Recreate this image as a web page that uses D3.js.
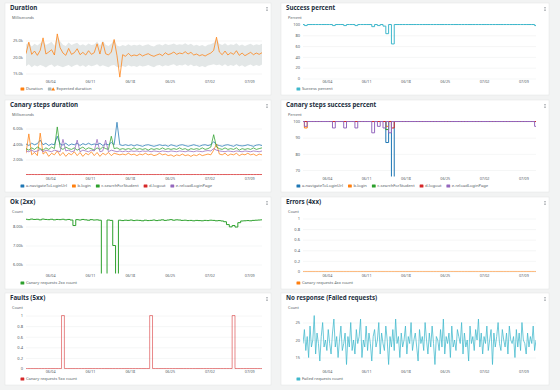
<!DOCTYPE html>
<html lang="en">
<head>
  <meta charset="UTF-8">
  <script src="https://d3js.org/d3.v7.min.js"></script>
  <style>
    body {
      margin: 0;
      padding: 0;
      overflow: hidden;
      background: #f2f3f3;
      font-family: "Noto Sans", Arial, sans-serif;
    }
  </style>
</head>
<body>
<script>
  // samples every 12 hours from 05/30 18:00 (failed requests every 6 hours)
  const startTime = new Date(2023, 4, 30, 18);
  const stepHours = 12;
  const failedStepHours = 6;
  const weekLabels = ['06/04', '06/11', '06/18', '06/25', '07/02', '07/09'];

  const durationValues = [
    21000, 24500, 20800, 21800, 20500, 22000, 25800, 20900, 21500, 22200, 20600, 27000,
    22800, 21200, 20500, 22600, 20800, 21300, 22500, 20700, 21400, 20600, 21900, 20800,
    21300, 24000, 20900, 24500, 21000, 20600, 21500, 25300, 20400, 13900, 20700, 20200,
    21100, 20300, 20600, 20400, 20900, 20300, 20700, 21000, 20500, 20200, 20600, 20900,
    20400, 21300, 20700, 21000, 21500, 20800, 21200, 21000, 21600, 20900, 21400, 20600,
    20900, 20400, 20700, 20300, 20800, 21200, 22000, 26000, 21500, 20700, 21800, 20600,
    21300, 20800, 21900, 20500, 21200, 20400, 20900, 21400, 20700, 21200, 20800, 21300];
  const expectedUpper = [
    23800, 24500, 23200, 24000, 23500, 24200, 25000, 23600, 24100, 24600, 23400, 26500,
    24800, 23700, 23300, 24400, 23600, 24000, 24300, 23500, 23900, 23400, 24100, 23600,
    23800, 24700, 23500, 24900, 23700, 23300, 24000, 25400, 23500, 23200, 23600, 23300,
    23900, 23400, 23700, 23500, 23800, 23300, 23600, 23900, 23400, 23200, 23700, 23900,
    23500, 24000, 23600, 23800, 24100, 23600, 23900, 23700, 24200, 23600, 24000, 23400,
    23700, 23300, 23600, 23200, 23700, 23900, 24300, 25600, 24000, 23600, 24200, 23500,
    23900, 23600, 24200, 23400, 23800, 23300, 23700, 24000, 23500, 23900, 23600, 24000];
  const expectedLower = [
    17200, 17800, 16900, 17500, 17100, 17600, 17300, 16800, 17400, 17700, 17000, 17500,
    17200, 16900, 17300, 17600, 17000, 17400, 17700, 17100, 17500, 17000, 17600, 17200,
    17400, 17800, 17100, 17500, 17200, 16900, 17400, 17600, 17000, 16800, 17300, 17000,
    17500, 17100, 17300, 17000, 17400, 17100, 17300, 17600, 17200, 16900, 17400, 17600,
    17100, 17500, 17300, 17600, 17800, 17300, 17600, 17400, 17800, 17300, 17700, 17200,
    17400, 17000, 17300, 16900, 17400, 17600, 17800, 17500, 17700, 17300, 17800, 17200,
    17600, 17300, 17800, 17100, 17500, 17000, 17400, 17700, 17200, 17600, 17300, 17700];

  const successPercent = [
    100, 98, 100, 100, 100, 100, 100, 100, 100, 100, 100, 98,
    100, 100, 100, 98, 100, 100, 100, 98, 100, 100, 100, 100,
    100, 96, 100, 98, 100, 97, 83, 100, 64, 100, 100, 100,
    100, 100, 100, 100, 100, 100, 100, 100, 100, 100, 100, 100,
    100, 100, 100, 100, 100, 100, 100, 100, 100, 100, 100, 100,
    100, 100, 100, 100, 100, 100, 100, 100, 100, 100, 100, 100,
    100, 100, 100, 100, 100, 100, 100, 100, 100, 100, 100, 98];

  const stepNames = ['a-navigateToLoginUrl', 'b-login', 'c-searchForStudent', 'd-logout', 'e-reloadLoginPage'];
  const stepColors = ['#1f77b4', '#ff7f0e', '#2ca02c', '#d62728', '#9467bd'];

  const navigateDuration = [
    4000, 3800, 4100, 3900, 4050, 4500, 3900, 4100, 3800, 4000, 3900, 5000,
    4000, 3850, 4100, 3800, 4000, 3900, 4100, 3800, 4050, 3900, 4100, 3900,
    4000, 3900, 4100, 3800, 4000, 3900, 4200, 3900, 6800, 3900, 3800, 3900,
    3800, 3900, 3750, 3900, 3800, 3700, 3850, 3900, 3800, 3700, 3800, 3900,
    3800, 3850, 3700, 3900, 3800, 3700, 3850, 3900, 3800, 3700, 3800, 3900,
    3800, 3700, 3850, 3900, 3800, 3900, 4300, 3900, 3800, 3700, 3850, 3900,
    3800, 3700, 3900, 3800, 3750, 3800, 3900, 3800, 3700, 3850, 3900, 3800];
  const loginDuration = [
    2800, 5300, 2600, 2900, 2500, 5400, 2700, 3000, 2400, 2800, 2600, 3100,
    2500, 2900, 2400, 2800, 2600, 3000, 2500, 2900, 2400, 2800, 2600, 3000,
    2500, 2900, 2400, 2800, 2600, 2900, 2500, 2800, 2700, 2600, 2700, 2600,
    2800, 2600, 2700, 2500, 2700, 2600, 2800, 2600, 2700, 2500, 2600, 2800,
    2600, 2700, 2500, 2600, 2400, 2600, 2500, 2700, 2500, 2600, 2400, 2600,
    2500, 2700, 2500, 2600, 2700, 2600, 3200, 4000, 2700, 2600, 2800, 2500,
    2700, 2600, 2800, 2500, 2700, 2600, 2800, 2600, 2700, 2500, 2700, 2600];
  const searchDuration = [
    3400, 3200, 3500, 3300, 3600, 3400, 3200, 3500, 3300, 3600, 3400, 6200,
    3500, 3300, 3600, 3400, 3300, 3500, 3200, 3400, 3600, 3300, 3500, 3400,
    3200, 3500, 3300, 3600, 3400, 3300, 5000, 3400, 3500, 3300, 3400, 3300,
    3400, 3300, 3500, 3300, 3400, 3300, 3400, 3200, 3400, 3300, 3400, 3300,
    3500, 3300, 3400, 3300, 3400, 3300, 3500, 3300, 3400, 3200, 3400, 3300,
    3400, 3300, 3500, 3300, 3400, 3600, 5200, 3600, 3400, 3300, 3500, 3300,
    3400, 3300, 3500, 3200, 3400, 3300, 3400, 3300, 3500, 3300, 3400, 3500];
  const logoutDuration = [
    62, 58, 65, 60, 57, 63, 61, 59, 64, 60, 58, 62,
    60, 63, 57, 61, 64, 59, 62, 58, 60, 65, 61, 59,
    63, 60, 58, 62, 61, 59, 64, 60, 66, 58, 61, 60,
    59, 62, 60, 58, 63, 61, 59, 60, 62, 58, 61, 60,
    63, 59, 60, 62, 58, 61, 60, 59, 63, 60, 58, 62,
    61, 59, 60, 63, 58, 61, 62, 60, 59, 61, 60, 58,
    62, 60, 59, 61, 63, 58, 60, 62, 59, 61, 60, 62];
  const reloadDuration = [
    3100, 3000, 3200, 3000, 3100, 3300, 3000, 3200, 3100, 3000, 3200, 3100,
    3000, 4600, 3100, 3200, 3000, 3100, 4500, 3000, 3200, 3100, 3000, 3200,
    3100, 4600, 3000, 3100, 4500, 3000, 3200, 3100, 3000, 3100, 3000, 3100,
    3000, 3100, 3050, 3100, 3000, 3100, 3050, 3100, 3000, 3100, 3050, 3000,
    3100, 3050, 3000, 3100, 3050, 3000, 3100, 3050, 3000, 3100, 3050, 3000,
    3100, 3050, 3000, 3100, 3150, 3100, 3400, 3200, 3100, 3050, 3000, 3100,
    3050, 3000, 3100, 3050, 3000, 3100, 3050, 3000, 3100, 3050, 3000, 3100];

  const navigateSuccess = [
    100, 100, 100, 100, 100, 100, 100, 100, 100, 100, 100, 100,
    100, 100, 100, 100, 100, 100, 100, 100, 100, 100, 100, 100,
    100, 100, 100, 100, 100, 100, 87, 100, 60, 100, 100, 100,
    100, 100, 100, 100, 100, 100, 100, 100, 100, 100, 100, 100,
    100, 100, 100, 100, 100, 100, 100, 100, 100, 100, 100, 100,
    100, 100, 100, 100, 100, 100, 100, 100, 100, 100, 100, 100,
    100, 100, 100, 100, 100, 100, 100, 100, 100, 100, 100, 100];
  const loginSuccess = [
    100, 96, 100, 100, 100, 100, 100, 100, 100, 100, 100, 100,
    100, 100, 100, 100, 100, 100, 100, 100, 100, 100, 100, 100,
    100, 100, 100, 100, 100, 100, 97, 100, 100, 100, 100, 100,
    100, 100, 100, 100, 100, 100, 100, 100, 100, 100, 100, 100,
    100, 100, 100, 100, 100, 100, 100, 100, 100, 100, 100, 100,
    100, 100, 100, 100, 100, 100, 100, 100, 100, 100, 100, 100,
    100, 100, 100, 100, 100, 100, 100, 100, 100, 100, 100, 100];
  const searchSuccess = [
    100, 100, 100, 100, 100, 100, 100, 100, 100, 100, 100, 100,
    100, 100, 100, 100, 100, 100, 100, 100, 100, 100, 100, 100,
    100, 100, 100, 100, 100, 100, 95, 100, 100, 100, 100, 100,
    100, 100, 100, 100, 100, 100, 100, 100, 100, 100, 100, 100,
    100, 100, 100, 100, 100, 100, 100, 100, 100, 100, 100, 100,
    100, 100, 100, 100, 100, 100, 100, 100, 100, 100, 100, 100,
    100, 100, 100, 100, 100, 100, 100, 100, 100, 100, 100, 100];
  const logoutSuccess = [
    100, 100, 100, 100, 100, 100, 100, 100, 100, 100, 100, 100,
    100, 100, 100, 100, 100, 100, 100, 100, 100, 100, 100, 100,
    100, 100, 100, 100, 100, 100, 100, 100, 96, 100, 100, 100,
    100, 100, 100, 100, 100, 100, 100, 100, 100, 100, 100, 100,
    100, 100, 100, 100, 100, 100, 100, 100, 100, 100, 100, 100,
    100, 100, 100, 100, 100, 100, 100, 100, 100, 100, 100, 100,
    100, 100, 100, 100, 100, 100, 100, 100, 100, 100, 100, 100];
  const reloadSuccess = [
    100, 97, 100, 100, 100, 100, 100, 100, 100, 100, 100, 96,
    100, 100, 100, 96, 100, 100, 100, 96, 100, 100, 100, 100,
    100, 93, 100, 97, 100, 96, 100, 93, 100, 100, 100, 100,
    100, 100, 100, 100, 100, 100, 100, 100, 100, 100, 100, 100,
    100, 100, 100, 100, 100, 100, 100, 100, 100, 100, 100, 100,
    100, 100, 100, 100, 100, 100, 100, 100, 100, 100, 100, 100,
    100, 100, 100, 100, 100, 100, 100, 100, 100, 100, 100, 97];

  const okCount = [
    8380, 8360, 8390, 8370, 8380, 8350, 8390, 8370, 8360, 8380, 8350, 8370,
    8360, 8380, 8350, 8370, 8340, 8050, 8360, 8340, 8370, 8350, 8330, 8360,
    8340, 8350, 8330, 5200, 5200, 8340, 8320, 7000, 5200, 8330, 8310, 8330,
    8320, 8340, 8310, 8330, 8320, 8300, 8330, 8310, 8320, 8340, 8310, 8330,
    8350, 8320, 8340, 8360, 8330, 8350, 8340, 8320, 8330, 8310, 8320, 8300,
    8320, 8310, 8300, 8320, 8310, 8330, 8320, 8300, 8310, 8290, 8250, 8100,
    7980, 8050, 7970, 8200, 8290, 8300, 8310, 8300, 8320, 8330, 8340, 8350];
  const errorCount = [
    0, 0, 0, 0, 0, 0, 0, 0, 0, 0, 0, 0,
    0, 0, 0, 0, 0, 0, 0, 0, 0, 0, 0, 0,
    0, 0, 0, 0, 0, 0, 0, 0, 0, 0, 0, 0,
    0, 0, 0, 0, 0, 0, 0, 0, 0, 0, 0, 0,
    0, 0, 0, 0, 0, 0, 0, 0, 0, 0, 0, 0,
    0, 0, 0, 0, 0, 0, 0, 0, 0, 0, 0, 0,
    0, 0, 0, 0, 0, 0, 0, 0, 0, 0, 0, 0];
  const faultCount = [
    0, 0, 0, 0, 0, 0, 0, 0, 0, 0, 0, 0,
    0, 1, 0, 0, 0, 0, 0, 0, 0, 0, 0, 0,
    0, 0, 0, 0, 0, 0, 0, 0, 0, 0, 0, 0,
    0, 0, 0, 0, 0, 0, 0, 0, 1, 0, 0, 0,
    0, 0, 0, 0, 0, 0, 0, 0, 0, 0, 0, 0,
    0, 0, 0, 0, 0, 0, 0, 0, 0, 0, 0, 0,
    0, 1, 0, 0, 0, 0, 0, 0, 0, 0, 0, 0];
  const failedCount = [
    19, 23, 17, 21, 15, 24, 18, 20, 27, 16, 22, 19, 14, 21, 25, 18,
    20, 17, 23, 19, 16, 22, 26, 18, 21, 15, 20, 24, 17, 19, 22, 13,
    21, 18, 25, 17, 20, 16, 23, 19, 21, 26, 15, 20, 18, 24, 17, 22,
    19, 14, 21, 23, 18, 20, 25, 16, 22, 19, 17, 24, 20, 13, 21, 18,
    23, 17, 26, 19, 21, 15, 22, 18, 20, 24, 16, 21, 19, 25, 17, 20,
    22, 18, 14, 23, 19, 21, 17, 25, 20, 16, 22, 18, 24, 19, 13, 21,
    20, 17, 23, 18, 26, 16, 21, 19, 22, 15, 24, 18, 20, 17, 23, 21,
    19, 25, 16, 22, 18, 20, 14, 24, 19, 21, 17, 23, 20, 26, 18, 22,
    16, 21, 19, 24, 17, 20, 23, 13, 22, 18, 21, 25, 19, 17, 23, 20,
    18, 22, 16, 24, 20, 19, 21, 15, 23, 18, 22, 17, 25, 20, 19, 16,
    22, 18, 21, 19, 24, 17, 20];

  const teal = '#3fb8cc';
  const timeAt = (i, h) => d3.timeHour.offset(startTime, i * h);
  const xDomain = [startTime, timeAt(durationValues.length - 1, stepHours)];
  const parseLabel = d3.timeParse('%Y/%m/%d');
  const weekDates = weekLabels.map(l => parseLabel('2023/' + l));

  const svg = d3.select('body').append('svg')
    .attr('width', 560)
    .attr('height', 390);

  const kFormat = digits => d => (d / 1000).toFixed(digits) + 'k';

  function drawPanel(p) {
    const g = svg.append('g').attr('transform', `translate(${p.x},${p.y})`);
    g.append('rect')
      .attr('width', p.w).attr('height', 92)
      .attr('fill', '#fff')
      .attr('stroke', '#e1e4e4').attr('stroke-width', 0.5);

    g.append('text')
      .attr('x', 5).attr('y', 6.6)
      .attr('font-size', 6.2).attr('font-weight', 700)
      .attr('fill', '#232f3e')
      .text(p.title);

    [4.4, 6, 7.6].forEach(cy => {
      g.append('circle').attr('cx', p.w - 4).attr('cy', cy).attr('r', 0.5).attr('fill', '#545b64');
    });

    g.append('text')
      .attr('x', 7).attr('y', 15.6)
      .attr('font-size', 3.8)
      .attr('fill', '#545b64')
      .text(p.unit);

    const x = d3.scaleTime().domain(xDomain).range([p.left, p.right]);
    // half-pixel offset keeps flat lines crisp
    const y = d3.scaleLinear().domain(p.yDomain).range([75.5, 21.5]);

    // y grid + labels
    const yAxis = g.append('g')
      .attr('transform', `translate(${p.left},0)`)
      .call(d3.axisLeft(y)
        .tickValues(p.yTicks)
        .tickFormat(p.yFormat)
        .tickSize(-(p.right - p.left))
        .tickPadding(3));
    yAxis.select('.domain').remove();
    yAxis.selectAll('line').attr('stroke', '#eaeded').attr('stroke-width', 0.5);
    yAxis.selectAll('text')
      .attr('font-size', 4).attr('fill', '#545b64')
      .attr('font-family', '"Noto Sans", Arial, sans-serif');

    const xAxis = g.append('g')
      .attr('transform', 'translate(0,75)')
      .call(d3.axisBottom(x)
        .tickValues(weekDates)
        .tickFormat(d3.timeFormat('%m/%d'))
        .tickSize(0)
        .tickPadding(2.4));
    xAxis.select('.domain').remove();
    xAxis.selectAll('text')
      .attr('font-size', 3.7).attr('fill', '#545b64')
      .attr('font-family', '"Noto Sans", Arial, sans-serif');

    const clipId = 'clip-' + p.id;
    g.append('clipPath').attr('id', clipId)
      .append('rect')
      .attr('x', p.left).attr('y', 20)
      .attr('width', p.right - p.left).attr('height', 56.5);

    const plot = g.append('g').attr('clip-path', `url(#${clipId})`);

    if (p.band) {
      const area = d3.area()
        .x((d, i) => x(timeAt(i, stepHours)))
        .y0((d, i) => y(p.band.lower[i]))
        .y1((d, i) => y(p.band.upper[i]));
      plot.append('path')
        .datum(p.band.upper)
        .attr('d', area)
        .attr('fill', '#e3e7e7');
    }

    p.series.forEach(s => {
      const line = d3.line()
        .curve(p.stepped ? d3.curveStep : d3.curveLinear)
        .x((d, i) => x(timeAt(i, s.step || stepHours)))
        .y(d => y(d));
      plot.append('path')
        .datum(s.values)
        .attr('d', line)
        .attr('fill', 'none')
        .attr('stroke', s.color)
        .attr('stroke-width', p.stepped ? 1 : 0.75)
        .attr('stroke-opacity', s.opacity || 1)
        .attr('stroke-linejoin', 'round');
    });

    // legend
    let lx = 15.5;
    p.legend.forEach(item => {
      const lg = g.append('g').attr('transform', `translate(${lx},86)`);
      let off;
      if (item.band) {
        lg.append('rect').attr('x', 0).attr('y', -1.6).attr('width', 3.6).attr('height', 3.2)
          .attr('rx', 0.5).attr('fill', '#aab7b8');
        lg.append('path').attr('d', 'M3.4,1.6 L5.3,-1.8 L7.2,1.6 Z').attr('fill', '#ff7f0e');
        off = 8.6;
      } else {
        lg.append('rect').attr('x', 0).attr('y', -1.6).attr('width', 3.8).attr('height', 3.2)
          .attr('rx', 0.5).attr('fill', item.color);
        off = 5.4;
      }
      const t = lg.append('text')
        .attr('x', off).attr('dy', '0.35em')
        .attr('font-size', 4.1).attr('fill', '#545b64')
        .text(item.label);
      lx += off + t.node().getComputedTextLength() + 5;
    });
  }

  const leftCol = { x: 5, w: 266, left: 21, right: 257 };
  const rightCol = { x: 281, w: 268, left: 22, right: 255 };
  const rowY = [3, 100, 197, 293];

  const panels = [
    Object.assign({}, leftCol, {
      id: 'duration', y: rowY[0], title: 'Duration', unit: 'Milliseconds',
      yDomain: [13480, 29850], yTicks: [15000, 20000, 25000], yFormat: kFormat(1),
      band: { upper: expectedUpper, lower: expectedLower },
      series: [{ values: durationValues, color: '#ff7f0e' }],
      legend: [{ label: 'Duration', color: '#ff7f0e' }, { label: 'Expected duration', band: true }]
    }),
    Object.assign({}, rightCol, {
      id: 'success', y: rowY[0], title: 'Success percent', unit: 'Percent', stepped: true,
      yDomain: [0, 100], yTicks: [0, 20, 40, 60, 80, 100], yFormat: d3.format('d'),
      series: [{ values: successPercent, color: teal }],
      legend: [{ label: 'Success percent', color: teal }]
    }),
    Object.assign({}, leftCol, {
      id: 'steps-duration', y: rowY[1], title: 'Canary steps duration', unit: 'Milliseconds',
      yDomain: [-65, 6900], yTicks: [2000, 4000, 6000], yFormat: kFormat(2),
      series: [navigateDuration, loginDuration, searchDuration, logoutDuration, reloadDuration]
        .map((v, i) => ({ values: v, color: stepColors[i] })),
      legend: stepNames.map((n, i) => ({ label: n, color: stepColors[i] }))
    }),
    Object.assign({}, rightCol, {
      id: 'steps-success', y: rowY[1], title: 'Canary steps success percent', unit: 'Percent', stepped: true,
      yDomain: [66.6, 100], yTicks: [70, 80, 90, 100], yFormat: d3.format('d'),
      series: [navigateSuccess, loginSuccess, searchSuccess, logoutSuccess, reloadSuccess]
        .map((v, i) => ({ values: v, color: stepColors[i] })),
      legend: stepNames.map((n, i) => ({ label: n, color: stepColors[i] }))
    }),
    Object.assign({}, leftCol, {
      id: 'ok', y: rowY[2], title: 'Ok (2xx)', unit: 'Count', stepped: true,
      yDomain: [5580, 8420], yTicks: [6000, 7000, 8000], yFormat: kFormat(2),
      series: [{ values: okCount, color: '#2ca02c' }],
      legend: [{ label: 'Canary requests 2xx count', color: '#2ca02c' }]
    }),
    Object.assign({}, rightCol, {
      id: 'errors', y: rowY[2], title: 'Errors (4xx)', unit: 'Count', stepped: true,
      yDomain: [-0.02, 1], yTicks: [0, 0.2, 0.4, 0.6, 0.8, 1], yFormat: d3.format(''),
      series: [{ values: errorCount, color: '#ff7f0e', opacity: 0.55 }],
      legend: [{ label: 'Canary requests 4xx count', color: '#ff7f0e' }]
    }),
    Object.assign({}, leftCol, {
      id: 'faults', y: rowY[3], title: 'Faults (5xx)', unit: 'Count', stepped: true,
      yDomain: [0, 1.02], yTicks: [0, 0.2, 0.4, 0.6, 0.8, 1], yFormat: d3.format(''),
      series: [{ values: faultCount, color: '#d62728', opacity: 0.55 }],
      legend: [{ label: 'Canary requests 5xx count', color: '#d62728' }]
    }),
    Object.assign({}, rightCol, {
      id: 'failed', y: rowY[3], title: 'No response (Failed requests)', unit: 'Count',
      yDomain: [11.86, 27.3], yTicks: [15, 20, 25], yFormat: d3.format('d'),
      series: [{ values: failedCount, color: teal, step: failedStepHours }],
      legend: [{ label: 'Failed requests count', color: teal }]
    })
  ];

  panels.forEach(drawPanel);
</script>
</body>
</html>
